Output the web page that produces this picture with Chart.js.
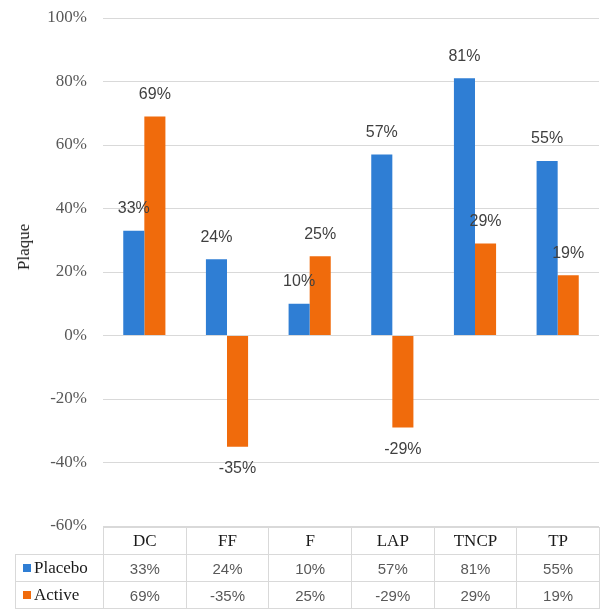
<!DOCTYPE html>
<html>
<head>
<meta charset="utf-8">
<script src="https://cdn.jsdelivr.net/npm/chart.js@4.4.0/dist/chart.umd.min.js"></script>
<style>
  body { margin: 0; background: #fff; }
  #wrap { position: relative; width: 601px; height: 609px; overflow: hidden; }
  #chartBox { position: absolute; left: 0; top: 0; width: 601px; height: 540px; }
  #yTitle {
    position: absolute; left: 24px; top: 247px;
    transform: translate(-50%, -50%) rotate(-90deg);
    font: 17px "Liberation Serif", serif; color: #1a1a1a; white-space: nowrap;
  }
  #dataTable {
    position: absolute; border-collapse: collapse; table-layout: fixed;
  }
  #dataTable td {
    border: 1px solid #d9d9d9; height: 26px; padding: 0; text-align: center;
    font: 15px "Liberation Sans", sans-serif; color: #595959;
  }
  #dataTable tr.head td { font: 17px "Liberation Serif", serif; color: #1a1a1a; }
  #dataTable td.blank { border: none; }
  #dataTable td.series { text-align: left; font: 17px "Liberation Serif", serif; color: #1a1a1a; padding-left: 7px; }
  .key { display: inline-block; width: 8px; height: 8px; margin-right: 3px; vertical-align: 1px; }
</style>
</head>
<body>
<div id="wrap">
  <div id="chartBox"><canvas id="plaqueChart"></canvas></div>
  <div id="yTitle">Plaque</div>
  <table id="dataTable"></table>
</div>
<script>
const categories = ['DC', 'FF', 'F', 'LAP', 'TNCP', 'TP'];
const placebo = [33, 24, 10, 57, 81, 55];
const active = [69, -35, 25, -29, 29, 19];
const yTicks = [-60, -40, -20, 0, 20, 40, 60, 80, 100];

const blue = '#2f7ed4';
const orange = '#f06b0c';

// value labels at the end of each bar (above positive, below negative)
const barLabels = {
    id: 'barLabels',
    afterDatasetsDraw(chart) {
        const ctx = chart.ctx;
        ctx.save();
        ctx.font = '16px "Liberation Sans", sans-serif';
        ctx.fillStyle = '#404040';
        ctx.textAlign = 'center';
        ctx.textBaseline = 'middle';
        chart.data.datasets.forEach((ds, i) => {
            chart.getDatasetMeta(i).data.forEach((bar, j) => {
                const v = ds.data[j];
                const y = v >= 0 ? bar.y - 22 : bar.y + 22;
                ctx.fillText(v + '%', bar.x, y);
            });
        });
        ctx.restore();
    }
};

const ctx = document.getElementById('plaqueChart').getContext('2d');
const plaqueChart = new Chart(ctx, {
    type: 'bar',
    data: {
        labels: categories,
        datasets: [
            { label: 'Placebo', data: placebo, backgroundColor: blue },
            { label: 'Active', data: active, backgroundColor: orange }
        ]
    },
    options: {
        responsive: true,
        maintainAspectRatio: false,
        animation: false,
        categoryPercentage: 0.51,
        barPercentage: 1.0,
        layout: { padding: { left: 0, right: 2, top: 18, bottom: 14 } },
        plugins: {
            legend: { display: false },
            tooltip: { enabled: false }
        },
        scales: {
            x: { display: false },
            y: {
                min: -60,
                max: 100,
                afterBuildTicks(scale) {
                    scale.ticks = yTicks.map(v => ({ value: v }));
                },
                afterFit(scale) {
                    scale.width = 103;
                    scale.paddingTop = 0;
                    scale.paddingBottom = 0;
                },
                ticks: {
                    padding: 16,
                    color: '#595959',
                    font: { family: 'Liberation Serif', size: 17 },
                    callback: v => v + '%'
                },
                grid: { color: '#d9d9d9', drawTicks: false },
                border: { display: false }
            }
        }
    },
    plugins: [barLabels]
});

// data table under the plot, columns lined up with the categories
const area = plaqueChart.chartArea;
const table = document.getElementById('dataTable');
const colW = (area.right - area.left) / categories.length;
const legendLeft = 15;
table.style.left = legendLeft + 'px';
table.style.top = Math.round(area.bottom + 1) + 'px';
table.style.width = (area.right - legendLeft) + 'px';

let html = '<colgroup><col style="width:' + (area.left - legendLeft) + 'px">';
categories.forEach(() => { html += '<col style="width:' + colW + 'px">'; });
html += '</colgroup>';
html += '<tr class="head"><td class="blank"></td>' + categories.map(c => '<td>' + c + '</td>').join('') + '</tr>';
html += '<tr><td class="series"><span class="key" style="background:' + blue + '"></span>Placebo</td>' +
    placebo.map(v => '<td>' + v + '%</td>').join('') + '</tr>';
html += '<tr><td class="series"><span class="key" style="background:' + orange + '"></span>Active</td>' +
    active.map(v => '<td>' + v + '%</td>').join('') + '</tr>';
table.innerHTML = html;
</script>
</body>
</html>
